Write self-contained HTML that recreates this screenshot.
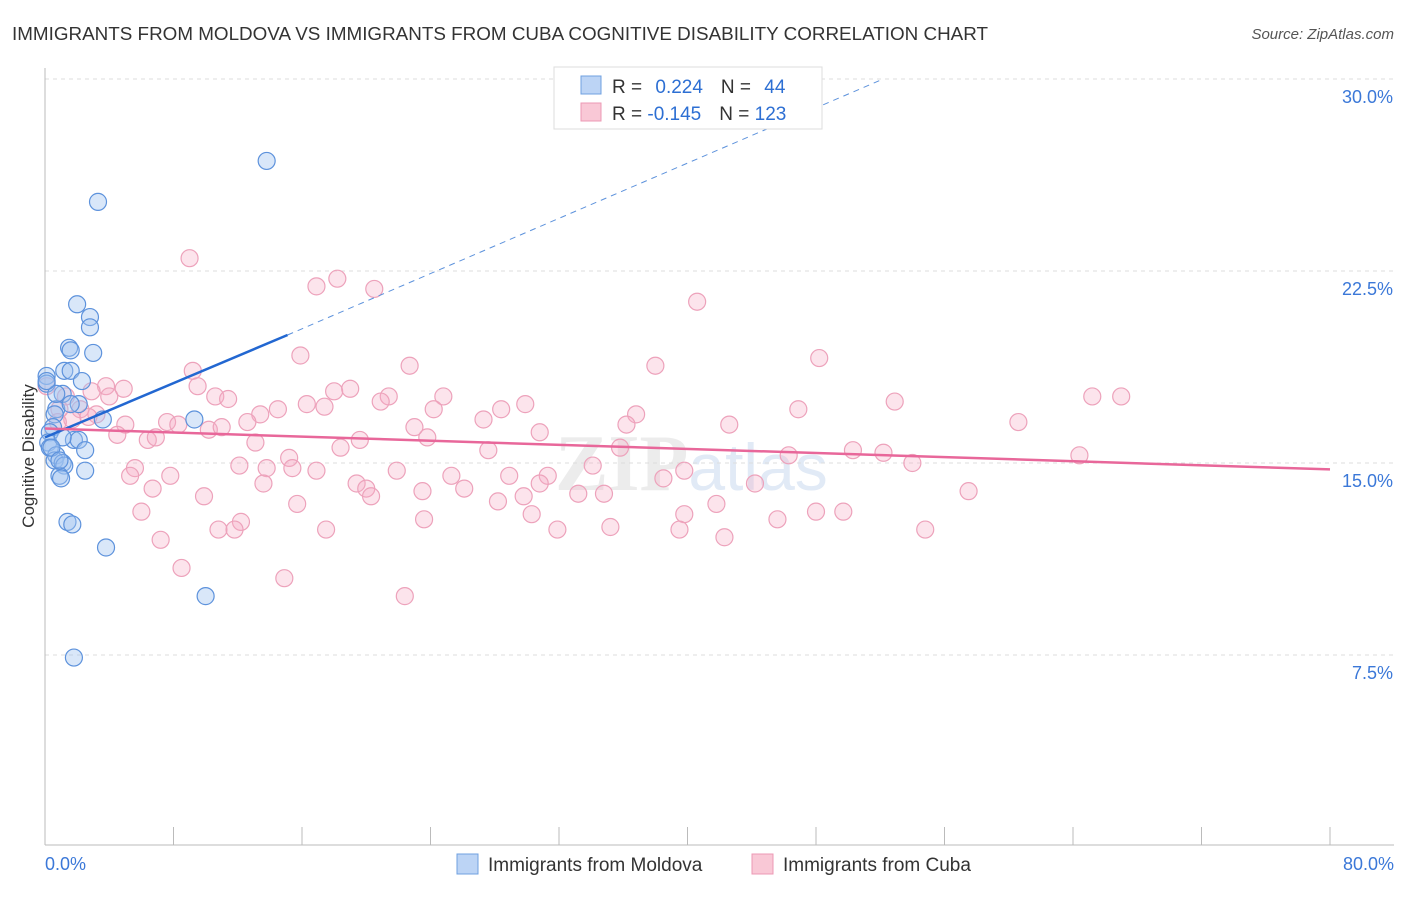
<!DOCTYPE html>
<html><head><meta charset="utf-8"><style>
body{margin:0;background:#fff;font-family:"Liberation Sans",sans-serif}
</style></head><body>
<svg width="1406" height="892" xmlns="http://www.w3.org/2000/svg" font-family="Liberation Sans, sans-serif">
<text x="12" y="40" font-size="18" fill="#333" textLength="976" lengthAdjust="spacingAndGlyphs">IMMIGRANTS FROM MOLDOVA VS IMMIGRANTS FROM CUBA COGNITIVE DISABILITY CORRELATION CHART</text>
<text x="1394" y="39" font-size="15" fill="#555" text-anchor="end" font-style="italic">Source: ZipAtlas.com</text>
<text x="555" y="490" font-size="80" fill="#ececec" font-family="Liberation Serif, serif" font-weight="bold">ZIP<tspan font-family="Liberation Sans" font-weight="normal" fill="#e1eaf6" font-size="66">atlas</tspan></text>
<g id="grid"></g>
<g id="axes"></g>
<g id="pink"></g>
<g id="blue"></g>
<g id="trends"></g>
<text x="34" y="456" font-size="17" fill="#333" text-anchor="middle" transform="rotate(-90 34 456)">Cognitive Disability</text>
<g>
<rect x="554" y="67" width="268" height="62" fill="#fff" stroke="#ddd"/>
<rect x="581" y="76" width="20" height="18" fill="#bcd4f5" stroke="#6fa0e0"/>
<rect x="581" y="103" width="20" height="18" fill="#f9c8d6" stroke="#ec99b4"/>
<text x="612" y="93" font-size="19" fill="#333">R = <tspan fill="#2d6fd3" dx="8">0.224</tspan><tspan dx="18">N = </tspan><tspan fill="#2d6fd3" dx="8">44</tspan></text>
<text x="612" y="120" font-size="19" fill="#333">R = <tspan fill="#2d6fd3">-0.145</tspan><tspan dx="18">N = </tspan><tspan fill="#2d6fd3">123</tspan></text>
</g>
<g>
<rect x="457" y="854" width="21" height="20" fill="#bcd4f5" stroke="#6fa0e0"/>
<text x="488" y="871" font-size="19" fill="#333">Immigrants from Moldova</text>
<rect x="752" y="854" width="21" height="20" fill="#f9c8d6" stroke="#ec99b4"/>
<text x="783" y="871" font-size="19" fill="#333">Immigrants from Cuba</text>
</g>
</svg>
<script>
const yTicks=[7.5,15,22.5,30];
const yTickLabels=["7.5%","15.0%","22.5%","30.0%"];
const xTickVals=[0,8,16,24,32,40,48,56,64,72,80];
const moldovaX=[13.8,3.3,2.0,2.8,2.8,1.5,1.6,3.0,0.1,1.2,1.6,2.3,0.1,1.1,2.1,0.7,0.6,1.6,0.5,0.3,1.8,2.1,0.2,0.3,0.7,0.6,1.1,1.2,2.5,2.5,0.9,1.0,1.4,1.7,3.8,10.0,1.8,3.6,9.3,1.1,0.4,0.9,0.7,0.1];
const moldovaY=[26.8,25.2,21.2,20.7,20.3,19.5,19.4,19.3,18.4,18.6,18.6,18.2,18.1,17.7,17.3,17.1,16.9,17.3,16.4,16.2,15.9,15.9,15.8,15.6,15.3,15.1,15.0,14.9,15.5,14.7,14.5,14.4,12.7,12.6,11.7,9.8,7.4,16.7,16.7,16.0,15.6,15.1,17.7,18.2];
const cubaX=[9.0,16.9,18.2,20.5,40.6,15.9,22.7,38.0,48.2,9.2,0.1,3.8,4.9,9.5,18.0,19.0,2.9,10.6,11.4,21.4,20.9,24.8,1.3,65.2,67.0,52.9,0.9,2.2,4.0,14.5,13.4,16.3,17.4,24.2,28.4,29.9,46.9,1.7,3.2,5.0,7.6,8.3,12.6,10.2,11.0,23.0,27.3,36.8,36.2,42.6,60.6,4.5,6.4,6.9,13.1,18.4,19.6,23.8,30.8,35.8,27.6,50.3,52.2,46.3,5.6,15.2,15.4,16.9,34.1,39.8,31.3,12.1,13.8,21.9,25.3,28.9,64.4,54.0,5.3,7.8,13.6,19.4,20.0,20.3,23.5,26.1,30.8,38.5,44.2,6.7,9.9,15.7,28.2,29.8,33.2,34.8,57.5,6.0,41.8,48.0,49.7,30.3,39.8,35.2,23.6,31.9,39.5,45.6,12.2,10.8,11.8,17.5,54.8,7.2,42.3,8.5,14.9,22.4,0.8,2.7];
const cubaY=[23.0,21.9,22.2,21.8,21.3,19.2,18.8,18.8,19.1,18.6,18.0,18.0,17.9,18.0,17.8,17.9,17.8,17.6,17.5,17.6,17.4,17.6,17.6,17.6,17.6,17.4,17.1,17.1,17.6,17.1,16.9,17.3,17.2,17.1,17.1,17.3,17.1,16.7,16.9,16.5,16.6,16.5,16.6,16.3,16.4,16.4,16.7,16.9,16.5,16.5,16.6,16.1,15.9,16.0,15.8,15.6,15.9,16.0,16.2,15.6,15.5,15.5,15.4,15.3,14.8,15.2,14.8,14.7,14.9,14.7,14.5,14.9,14.8,14.7,14.5,14.5,15.3,15.0,14.5,14.5,14.2,14.2,14.0,13.7,13.9,14.0,14.2,14.4,14.2,14.0,13.7,13.4,13.5,13.7,13.8,13.8,13.9,13.1,13.4,13.1,13.1,13.0,13.0,12.5,12.8,12.4,12.4,12.8,12.7,12.4,12.4,12.4,12.4,12.0,12.1,10.9,10.5,9.8,16.6,16.8];
const X0=45,X1=1330,Y0=847,PXY=192/7.5;
const xs=v=>X0+v/80*(X1-X0), ys=v=>Y0-v*PXY;
const NS="http://www.w3.org/2000/svg";
function mk(t,a,p){const e=document.createElementNS(NS,t);for(const k in a)e.setAttribute(k,a[k]);p.appendChild(e);return e;}
const grid=document.getElementById('grid'),axes=document.getElementById('axes');
yTicks.forEach((v,i)=>{
 const l=mk('line',{x1:45,x2:1394,y1:ys(v),y2:ys(v),stroke:'#ddd','stroke-dasharray':'4,4'},grid);
 
 
 const t=mk('text',{x:1393,y:ys(v)+24,'font-size':18,fill:'#3b78d8','text-anchor':'end'},axes);
 t.textContent=yTickLabels[i];
 
 
});
mk('line',{x1:45,x2:45,y1:68,y2:845,stroke:'#bbb'},axes);
mk('line',{x1:45,x2:1394,y1:845,y2:845,stroke:'#bbb'},axes);
xTickVals.forEach(v=>{const t=mk('line',{x1:xs(v),x2:xs(v),y1:827,y2:845,stroke:'#bbb'},axes);
 
 });
[['0.0%',45,'start'],['80.0%',1394,'end']].forEach(a=>{const t=mk('text',{x:a[1],y:870,'font-size':18,fill:'#3b78d8','text-anchor':a[2]},axes);t.textContent=a[0];
 
 });
const pink=document.getElementById('pink'),blue=document.getElementById('blue');
cubaX.forEach((x,i)=>{const c=mk('circle',{cx:xs(x),cy:ys(cubaY[i]),r:8.5,fill:'rgba(246,170,195,0.32)',stroke:'#eda2bb','stroke-width':1.2},pink);
 
 });
moldovaX.forEach((x,i)=>{const c=mk('circle',{cx:xs(x),cy:ys(moldovaY[i]),r:8.5,fill:'rgba(160,195,240,0.4)',stroke:'#5d92dc','stroke-width':1.2},blue);
 
 });
const tr=document.getElementById('trends');
const bl=[[0,16.0],[15.1,20.0],[52,29.95]], pk=[[0,16.35],[80,14.75]];
let e=mk('line',{x1:xs(bl[1][0]),y1:ys(bl[1][1]),x2:xs(bl[2][0]),y2:ys(bl[2][1]),stroke:'#5d92dc','stroke-dasharray':'6,5','stroke-width':1},tr);


e=mk('line',{x1:xs(bl[0][0]),y1:ys(bl[0][1]),x2:xs(bl[1][0]),y2:ys(bl[1][1]),stroke:'#2267d1','stroke-width':2.5},tr);


e=mk('line',{x1:xs(pk[0][0]),y1:ys(pk[0][1]),x2:xs(pk[1][0]),y2:ys(pk[1][1]),stroke:'#e8679a','stroke-width':2.5},tr);


</script>
</body></html>
